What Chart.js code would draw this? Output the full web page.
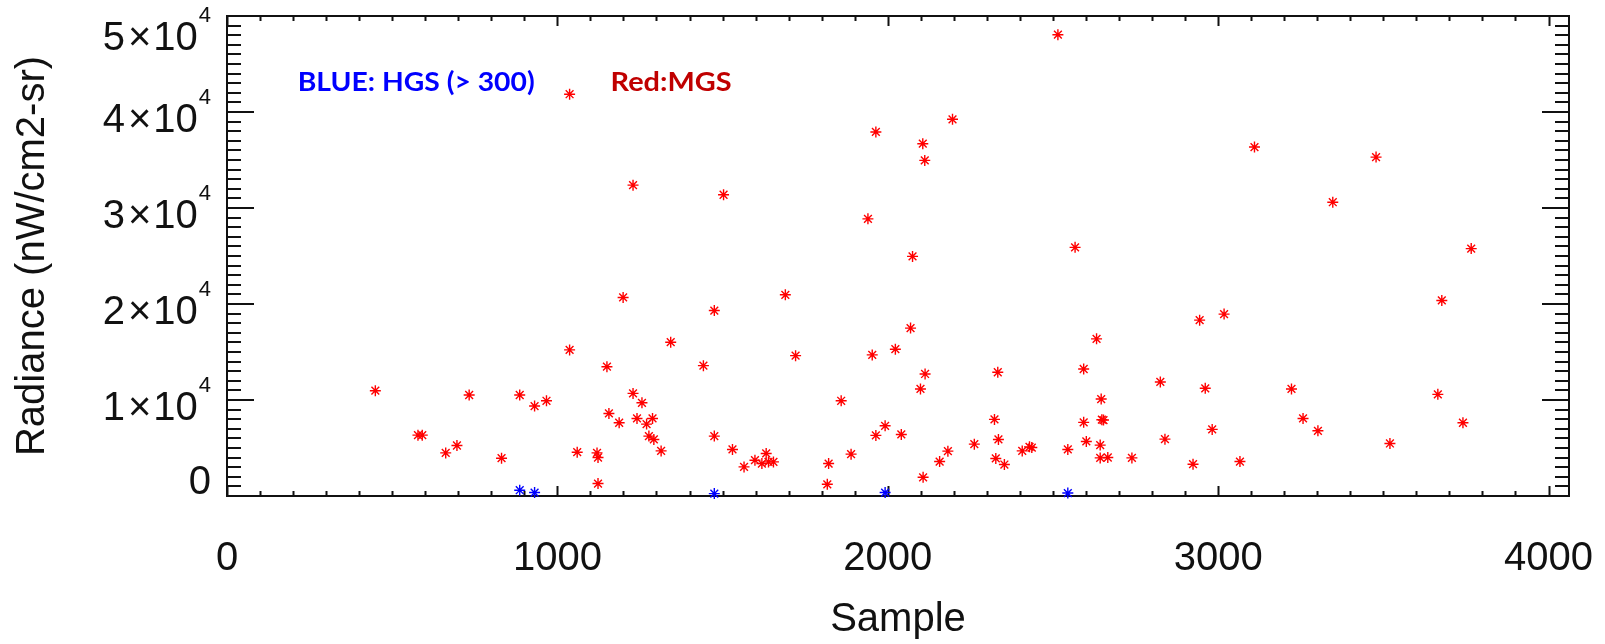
<!DOCTYPE html>
<html>
<head>
<meta charset="utf-8">
<script src="https://cdn.jsdelivr.net/npm/chart.js@4/dist/chart.umd.min.js"></script>
<style>
  html, body { margin: 0; padding: 0; background: #fff; }
</style>
</head>
<body>
<canvas id="chart" width="1605" height="644"></canvas>
<script>
// MGS samples (red)
const redX = [449, 578, 591, 662, 696, 733, 831, 886, 931, 967,
  1037, 1037, 1060, 1120, 1123, 1123, 1150, 1156, 1187, 1199,
  1229, 1229, 1241, 1256, 1270, 1277, 1288, 1292, 1314, 1343,
  1442, 1475, 1475, 1503, 1530, 1565, 1598, 1619, 1632, 1639,
  1654, 1690, 1721, 1817, 1821, 1859, 1889, 1940, 1953, 1964,
  1964, 1992, 2023, 2041, 2069, 2075, 2099, 2106, 2107, 2112,
  2113, 2157, 2182, 2196, 2262, 2323, 2327, 2333, 2335, 2353,
  2407, 2429, 2436, 2515, 2545, 2567, 2593, 2593, 2601, 2632,
  2643, 2643, 2646, 2653, 2648, 2666, 2739, 2825, 2839, 2924,
  2944, 2961, 2982, 3018, 3066, 3110, 3222, 3257, 3302, 3347,
  3478, 3520, 3665, 3677, 3741, 3766];
const redY = [10970, 6340, 6340, 4490, 5260, 10520, 3940, 10520, 9370, 9920,
  15220, 41850, 4560, 4490, 4010, 1300, 13470, 8600, 7630, 20680,
  32380, 10690, 8080, 9710, 7490, 6240, 8080, 5890, 4700, 16020,
  13580, 19320, 6240, 31380, 4850, 3030, 3730, 3380, 4430, 3550,
  3550, 20960, 14620, 1220, 3380, 9920, 4360, 28870, 14700, 37920,
  6310, 7310, 15290, 6410, 17490, 24960, 11150, 36700, 1950, 34960,
  12710, 3590, 4670, 39240, 5400, 7980, 3910, 12890, 5890, 3280,
  4700, 5120, 5050, 48050, 4850, 25900, 13230, 7670, 5680, 16370,
  5300, 3970, 10100, 7910, 7950, 4010, 3970, 11880, 5920, 3310,
  18320, 11220, 6940, 18950, 3590, 36350, 11150, 8080, 6790, 30600,
  35300, 5470, 10590, 20370, 7630, 25770];

// HGS samples (blue)
const blueX = [886, 931, 1475, 1992, 2545];
const blueY = [600, 360, 250, 360, 310];

const xTicks = [0, 1000, 2000, 3000, 4000];
const yTicks = [0, 10000, 20000, 30000, 40000, 50000];
const xMinorStep = 100;
const yMinorStep = 1000;

const notes = ['BLUE: HGS (> 300)', 'Red:MGS'];
const noteX = [214, 1161];
const noteY = [42200, 42200];

const axisFont = { family: 'Liberation Sans', size: 40 };
const ink = '#111';

// IDL-style frame with inward ticks on all four sides, plus y labels with exponents
const idlFrame = {
  id: 'idlFrame',
  beforeDatasetsDraw(chart) {
    const { ctx, chartArea: a, scales: { x, y } } = chart;
    ctx.save();
    ctx.strokeStyle = ink;
    ctx.lineWidth = 2;
    ctx.strokeRect(a.left, a.top, a.right - a.left, a.bottom - a.top);
    ctx.beginPath();
    for (let v = x.min; v <= x.max; v += xMinorStep) {
      const px = Math.round(x.getPixelForValue(v)) + 0.5;
      const len = xTicks.includes(v) ? 10 : 5;
      ctx.moveTo(px, a.bottom); ctx.lineTo(px, a.bottom - len);
      ctx.moveTo(px, a.top); ctx.lineTo(px, a.top + len);
    }
    for (let v = y.min; v <= y.max; v += yMinorStep) {
      const py = Math.round(y.getPixelForValue(v));
      const len = yTicks.includes(v) ? 27 : 14;
      ctx.moveTo(a.left, py); ctx.lineTo(a.left + len, py);
      ctx.moveTo(a.right, py); ctx.lineTo(a.right - len, py);
    }
    ctx.stroke();
    ctx.restore();
  },
  afterDraw(chart) {
    const { ctx, chartArea: a, scales: { x, y } } = chart;
    ctx.save();
    ctx.fillStyle = ink;
    ctx.textBaseline = 'middle';
    ctx.textAlign = 'right';
    const right = a.left - 16;
    yTicks.forEach(v => {
      const py = y.getPixelForValue(v);
      ctx.font = '40px "Liberation Sans"';
      if (v === 0) {
        ctx.fillText('0', right, py - 13);
        return;
      }
      const cy = Math.max(py + 9, 39);
      // mantissa, times sign and base drawn apart to get the IDL spacing
      let r = right;
      ctx.font = '22px "Liberation Sans"';
      ctx.fillText('4', r, cy - 23);
      r -= ctx.measureText('4').width + 1;
      ctx.font = '40px "Liberation Sans"';
      ctx.fillText('10', r, cy);
      r -= ctx.measureText('10').width + 2;
      ctx.fillText('\u00d7', r, cy);
      r -= ctx.measureText('\u00d7').width + 3;
      ctx.fillText(String(v / 10000), r, cy);
    });

    // annotations
    const widths = [237, 121];
    const colors = ['#0000ff', '#c00000'];
    ctx.textAlign = 'left';
    ctx.textBaseline = 'alphabetic';
    notes.forEach((t, i) => {
      ctx.font = 'bold 27px Lato';
      const w = ctx.measureText(t).width;
      const px = x.getPixelForValue(noteX[i]);
      const py = y.getPixelForValue(noteY[i]);
      ctx.save();
      ctx.translate(px, py);
      ctx.scale(widths[i] / w, 1);
      ctx.fillStyle = colors[i];
      ctx.fillText(t, 0, 0);
      ctx.restore();
    });
    ctx.restore();
  }
};

const pts = (xs, ys) => xs.map((v, i) => ({ x: v, y: ys[i] }));

new Chart(document.getElementById('chart'), {
  type: 'scatter',
  data: {
    datasets: [
      {
        label: 'MGS',
        data: pts(redX, redY),
        pointStyle: 'star',
        radius: 5.5,
        borderWidth: 1.4,
        borderColor: '#ff0000',
        backgroundColor: '#ff0000',
        clip: false
      },
      {
        label: 'HGS',
        data: pts(blueX, blueY),
        pointStyle: 'star',
        radius: 5.5,
        borderWidth: 1.4,
        borderColor: '#0000ff',
        backgroundColor: '#0000ff',
        clip: false
      }
    ]
  },
  options: {
    responsive: false,
    animation: false,
    layout: { padding: { top: 16, right: 36, left: 0, bottom: 0 } },
    plugins: { legend: { display: false }, tooltip: { enabled: false } },
    scales: {
      x: {
        type: 'linear',
        min: 0,
        max: 4062,
        afterBuildTicks(s) { s.ticks = xTicks.map(v => ({ value: v })); },
        afterFit(s) { s.height = 148; s.paddingLeft = 0; s.paddingRight = 0; },
        ticks: { font: axisFont, color: ink, padding: 39, maxRotation: 0, autoSkip: false, callback: v => String(v) },
        grid: { display: false, drawTicks: false },
        border: { display: false },
        title: { display: true, text: 'Sample', font: axisFont, color: ink, padding: { top: 0, bottom: 0 } }
      },
      y: {
        type: 'linear',
        min: 0,
        max: 50000,
        afterBuildTicks(s) { s.ticks = yTicks.map(v => ({ value: v })); },
        afterFit(s) { s.width = 227; s.paddingTop = 0; s.paddingBottom = 0; },
        ticks: { display: false },
        grid: { display: false, drawTicks: false },
        border: { display: false },
        title: { display: true, text: 'Radiance (nW/cm2-sr)', font: axisFont, color: ink, padding: { top: 9, bottom: 0 } }
      }
    }
  },
  plugins: [idlFrame]
});
</script>
</body>
</html>
